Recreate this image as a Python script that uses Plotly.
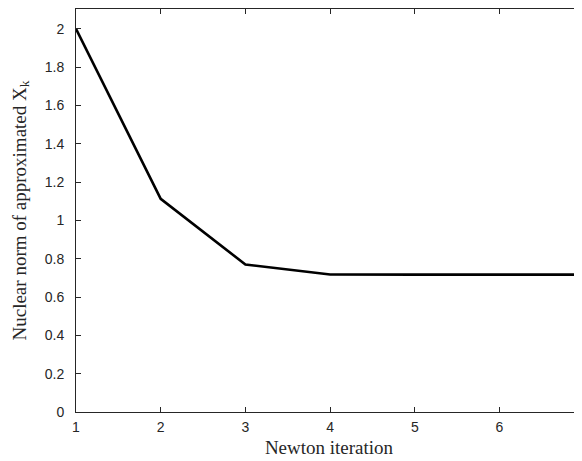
import plotly.graph_objects as go

iterations = [1, 2, 3, 4, 5, 6, 7]
nuclear_norm = [2.0, 1.113, 0.770, 0.718, 0.717, 0.717, 0.717]
y_ticks = [0, 0.2, 0.4, 0.6, 0.8, 1, 1.2, 1.4, 1.6, 1.8, 2]
y_tick_text = ["0", "0.2", "0.4", "0.6", "0.8", "1", "1.2", "1.4", "1.6", "1.8", "2"]
x_title = "Newton iteration"
y_title = "Nuclear norm of approximated X<sub>k</sub>"

fig = go.Figure()
fig.add_trace(go.Scatter(x=iterations, y=nuclear_norm, mode="lines",
                         line=dict(color="black", width=2.6), showlegend=False,
                         cliponaxis=False))

axis_common = dict(showgrid=False, zeroline=False, showline=True, linecolor="#262626",
                   linewidth=1, ticks="inside", ticklen=5, tickcolor="#262626",
                   mirror="ticks",
                   tickfont=dict(family="Liberation Sans, Arial", size=14, color="#262626"))

title_font = dict(family="Liberation Serif, Times New Roman", size=19, color="#262626")

fig.update_layout(
    width=574, height=453,
    margin=dict(l=68, r=0, t=1, b=49),
    paper_bgcolor="white", plot_bgcolor="white",
    xaxis=dict(range=[1, 6.974], tickvals=iterations, ticklabelstandoff=2, **axis_common,
               title=dict(text=x_title, standoff=6, font=title_font)),
    yaxis=dict(range=[0, 2.104], tickvals=y_ticks, ticktext=y_tick_text, ticklabelstandoff=8,
               **axis_common),
    annotations=[dict(text=y_title, xref="paper", yref="paper", x=0, y=0.5,
                      xanchor="center", yanchor="middle", xshift=-56, textangle=-90,
                      showarrow=False, font=title_font)],
)

fig.write_html("out.html")
